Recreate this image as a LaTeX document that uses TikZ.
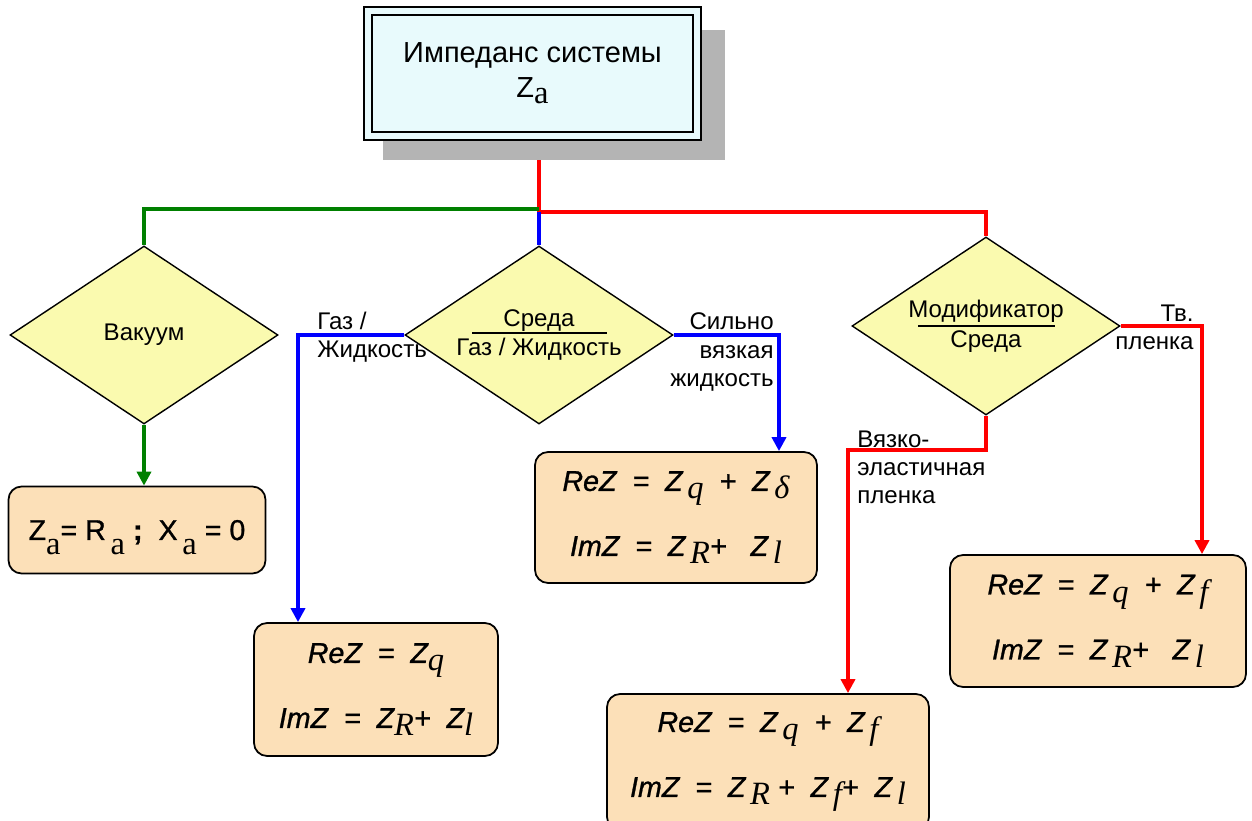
\documentclass[tikz,border=0pt]{standalone}
\usepackage{fontspec}
\setmainfont{Liberation Sans}
\newfontfamily\serifrm{Liberation Serif}
\newfontfamily\eqfont{Liberation Sans}[FakeBold=1]
\usetikzlibrary{shapes.geometric,arrows.meta,shadows,backgrounds}

\definecolor{boxpeach}{RGB}{252,224,184}
\definecolor{diayellow}{RGB}{250,250,175}
\definecolor{topcyan}{RGB}{232,250,252}
\definecolor{shadowgray}{RGB}{180,180,180}
\definecolor{linegreen}{RGB}{0,128,0}

% lowered serif index, as in Z_q
\newcommand\zsub[2][4.5pt]{\raisebox{-#1}{\serifrm\fontsize{18.5}{18}\selectfont #2}}

\tikzset{
  choice/.style={diamond, draw=black, line width=0.8pt, fill=diayellow, shape aspect=1.5,
    inner sep=1pt, minimum width=5.36cm, minimum height=3.56cm,
    font=\fontsize{13.7}{17}\selectfont, align=center},
  result/.style={rectangle, rounded corners=0.26cm, draw=black, line width=1pt,
    fill=boxpeach, align=center, font=\eqfont\itshape\fontsize{16.3}{37}\selectfont},
  branch/.style={line width=2pt},
  arrowed/.style={-{Triangle[width=8pt,length=8pt]}},
  lbltext/.style={font=\fontsize{13.7}{16}\selectfont, inner sep=0pt}
}

\begin{document}
\begin{tikzpicture}[x=0.02cm, y=-0.02cm]
    \useasboundingbox (0,0) rectangle (1252,821);
    % head box with shadow
    \node[draw=black, line width=0.7pt, double=topcyan, double distance=3.8pt, fill=topcyan,
      minimum width=6.58cm, minimum height=2.5cm, align=center, font=\fontsize{16.5}{20}\selectfont,
      drop shadow={shadow xshift=0.41cm, shadow yshift=-0.41cm, shadow scale=1.04,
        fill=shadowgray, opacity=1}] (top) at (532.5,73.5) {Импеданс системы\\Z\zsub[3.4pt]{a}};
    % decisions
    \node[choice] (vac) at (144,335) {Вакуум};
    \node[choice] (med) at (539,335) {Среда\\Газ / Жидкость};
    \node[choice] (mod) at (986,326) {Модификатор\\Среда};
    \draw[line width=0.7pt] (med.center) ++(-67,-2) -- ++(135,0);
    \draw[line width=0.7pt] (mod.center) ++(-68,0) -- ++(137,0);
    % results
    \node[result, minimum width=5.14cm, minimum height=1.74cm, text depth=0pt,
      font=\eqfont\fontsize{16.3}{20}\selectfont] (vacbox) at (137,530)
      {Z\zsub[8.5pt]{a}= R\,\zsub[8.5pt]{a}\ \textbf{;}\ \ X\,\zsub[8.5pt]{a}\ =\ 0};
    \node[result, minimum width=4.88cm, minimum height=2.66cm] (gasbox) at (376,689.5)
      {ReZ\ \ =\ \ Z\zsub{q}\\ImZ\ \ =\ \ Z\zsub{R}+\ \ Z\zsub{l}};
    \node[result, minimum width=5.64cm, minimum height=2.62cm] (viscbox) at (676,517.5)
      {ReZ\ \ =\ \ Z\,\zsub{q}\ \ +\ \ Z\,\zsub{δ}\\ImZ\ \ =\ \ Z\,\zsub{R}+\ \ \ Z\,\zsub{l}};
    \node[result, minimum width=6.44cm, minimum height=2.72cm] (vefbox) at (768,762)
      {ReZ\ \ =\ \ Z\,\zsub{q}\ \ +\ \ Z\,\zsub{f}\\ImZ\ \ =\ \ Z\,\zsub{R}\ +\ \ Z\,\zsub{f}+\ \ Z\,\zsub{l}};
    \node[result, minimum width=5.92cm, minimum height=2.64cm] (filmbox) at (1098,621)
      {ReZ\ \ =\ \ Z\,\zsub{q}\ \ +\ \ Z\,\zsub{f}\\ImZ\ \ =\ \ Z\,\zsub{R}+\ \ \ Z\,\zsub{l}};
    % branch labels
    \node[lbltext, anchor=west, align=left] (lgas) at (317,337) {Газ /\\Жидкость};
    \node[lbltext, anchor=east, align=right] (lvisc) at (774,352) {Сильно\\вязкая\\жидкость};
    \node[lbltext, anchor=east, align=right] (lfilm) at (1194,327) {Тв.\\пленка};
    \node[lbltext, anchor=west, align=left] (lvef) at (857,467) {Вязко-\\эластичная\\пленка};
    % lines from the head box
    \begin{scope}[on background layer]
        \coordinate (jr) at (539,212);
        \coordinate (jg) at (539,209);
        \draw[branch, red] (top.south -| jr) -- (jr) -| (mod.north);
        \draw[branch, linegreen] (jg) -| (vac.north);
        \draw[branch, blue] (jr) -- (med.north);
    \end{scope}
    % arrows to the results
    \coordinate (gasbend) at (298,335);
    \coordinate (viscbend) at (779,335);
    \coordinate (vefbend) at (848,450);
    \coordinate (filmbend) at (1202,326);
    \draw[branch, linegreen, arrowed] (vac.south) -- (vac.south |- vacbox.north);
    \draw[branch, blue, arrowed] (med.west) -- (gasbend) -- (gasbend |- gasbox.north);
    \draw[branch, blue, arrowed] (med.east) -- (viscbend) -- (viscbend |- viscbox.north);
    \draw[branch, red, arrowed] (mod.south) |- (vefbend) -- (vefbend |- vefbox.north);
    \draw[branch, red, arrowed] (mod.east) -- (filmbend) -- (filmbend |- filmbox.north);
\end{tikzpicture}
\end{document}
